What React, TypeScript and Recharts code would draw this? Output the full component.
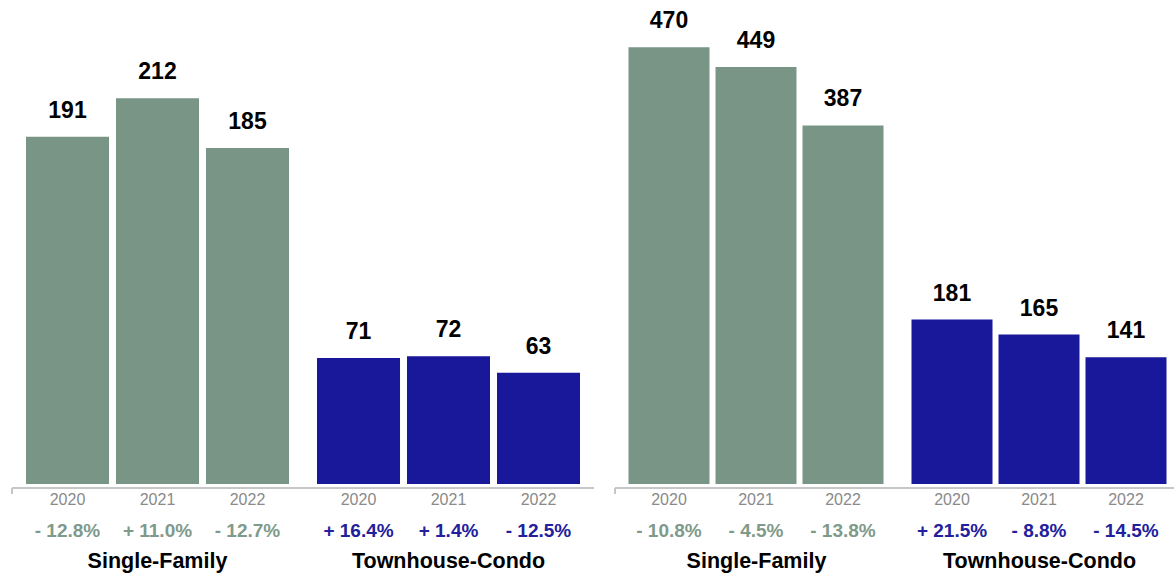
import React from "react";
import { BarChart, Bar, XAxis, YAxis, Cell, LabelList } from "recharts";

const categories = ["Single-Family", "Townhouse-Condo"];
const years = ["2020", "2021", "2022"];

const leftSingleFamily = [191, 212, 185];
const leftTownhouse = [71, 72, 63];
const leftSingleFamilyPct = ["- 12.8%", "+ 11.0%", "- 12.7%"];
const leftTownhousePct = ["+ 16.4%", "+ 1.4%", "- 12.5%"];

const rightSingleFamily = [470, 449, 387];
const rightTownhouse = [181, 165, 141];
const rightSingleFamilyPct = ["- 10.8%", "- 4.5%", "- 13.8%"];
const rightTownhousePct = ["+ 21.5%", "- 8.8%", "- 14.5%"];

const GREEN = "#789585";
const BLUE = "#19179a";
const PCT_COLORS = ["#7f9a8a", "#22209c"];
const BAR_COLORS = [GREEN, BLUE];
const FONT = "'Liberation Sans', Arial, Helvetica, sans-serif";
const AXIS_GRAY = "#c6c6c6";

function buildTable(sf: number[], th: number[]) {
  const rows = [sf, th];
  return categories.map((c, i) => ({
    cat: c,
    y2020: rows[i][0],
    y2021: rows[i][1],
    y2022: rows[i][2],
  }));
}

const makeBottom = (pcts: string[][], yearIdx: number) => (props: any) => {
  const { x, y, width, height, index } = props;
  const cx = Number(x) + Number(width) / 2;
  const base = Number(y) + Number(height);
  const idx = index ?? 0;
  return (
    <g>
      <text x={cx} y={base + 21} textAnchor="middle" fill="#8a8a8a" fontSize={16} fontFamily={FONT}>
        {years[yearIdx]}
      </text>
      <text x={cx} y={base + 53} textAnchor="middle" fill={PCT_COLORS[idx]} fontSize={19} fontWeight="bold" fontFamily={FONT}>
        {pcts[idx][yearIdx]}
      </text>
    </g>
  );
};

const CategoryTick = (props: any) => {
  const { x, y, payload } = props;
  return (
    <text x={x} y={y + 84} textAnchor="middle" fill="#000" fontSize={21.5} fontWeight="bold" fontFamily={FONT}>
      {payload.value}
    </text>
  );
};

const EmptyTick = () => <g />;

type PanelProps = {
  sf: number[];
  th: number[];
  sfPct: string[];
  thPct: string[];
  width: number;
  domain: [number, number];
  marginLeft: number;
  marginRight: number;
  catGap: number;
  barGap: number;
};

function Panel(p: PanelProps) {
  const data = buildTable(p.sf, p.th);
  const pcts = [p.sfPct, p.thPct];
  const keys = ["y2020", "y2021", "y2022"];
  return (
    <BarChart
      width={p.width}
      height={573}
      data={data}
      margin={{ top: 10, right: p.marginRight, left: p.marginLeft, bottom: 0 }}
      barCategoryGap={p.catGap}
      barGap={p.barGap}
    >
      <XAxis
        dataKey="cat"
        height={4}
        axisLine={false}
        tickLine={false}
        tickSize={0}
        tickMargin={0}
        tick={<CategoryTick />}
        interval={0}
      />
      <XAxis
        xAxisId="edge"
        type="number"
        domain={[0, 2]}
        ticks={[0, 1, 2]}
        allowDataOverflow
        height={85}
        tick={<EmptyTick />}
        tickSize={6}
        axisLine={{ stroke: AXIS_GRAY, strokeWidth: 2 }}
        tickLine={{ stroke: AXIS_GRAY, strokeWidth: 2 }}
      />
      <YAxis hide domain={p.domain} allowDataOverflow />
      {keys.map((k, yi) => (
        <Bar key={k} dataKey={k} isAnimationActive={false}>
          {data.map((_, ci) => (
            <Cell key={ci} fill={BAR_COLORS[ci]} />
          ))}
          <LabelList
            dataKey={k}
            position="top"
            offset={19}
            fill="#000"
            fontSize={23}
            fontWeight="bold"
            fontFamily={FONT}
          />
          <LabelList dataKey={k} content={makeBottom(pcts, yi)} />
        </Bar>
      ))}
    </BarChart>
  );
}

export default function App() {
  return (
    <div
      style={{
        position: "absolute",
        left: 0,
        top: 0,
        width: 1174,
        height: 573,
        overflow: "hidden",
        background: "#fff",
        display: "flex",
      }}
    >
      <div style={{ width: 600, flex: "0 0 600px" }}>
        <Panel
          sf={leftSingleFamily}
          th={leftTownhouse}
          sfPct={leftSingleFamilyPct}
          thPct={leftTownhousePct}
          width={600}
          domain={[2.7, 259.8]}
          marginLeft={12}
          marginRight={6}
          catGap={14}
          barGap={7}
        />
      </div>
      <div style={{ width: 581, flex: "0 0 581px" }}>
        <Panel
          sf={rightSingleFamily}
          th={rightTownhouse}
          sfPct={rightSingleFamilyPct}
          thPct={rightTownhousePct}
          width={581}
          domain={[6.4, 509.6]}
          marginLeft={15}
          marginRight={0}
          catGap={13.5}
          barGap={6}
        />
      </div>
    </div>
  );
}
